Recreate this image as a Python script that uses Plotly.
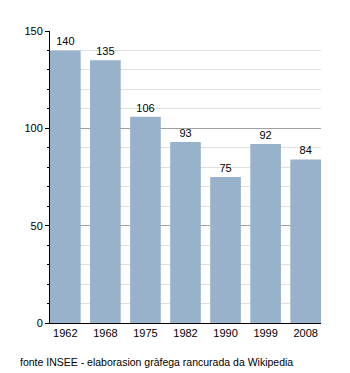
import plotly.graph_objects as go

# Population by census year
years = ["1962", "1968", "1975", "1982", "1990", "1999", "2008"]
population = [140, 135, 106, 93, 75, 92, 84]
source_note = "fonte INSEE - elaborasion gràfega rancurada da Wikipedia"

positions = list(range(len(years)))
bar_width = 0.766
half = bar_width / 2

fig = go.Figure(
    go.Bar(
        x=positions,
        y=population,
        width=bar_width,
        marker=dict(color="#99B2CC", line=dict(width=0)),
        text=[str(v) for v in population],
        textposition="outside",
        textfont=dict(family="Liberation Sans, Arial, sans-serif", size=11, color="#000"),
        cliponaxis=False,
    )
)

fig.update_layout(
    width=350,
    height=373,
    margin=dict(l=50, r=29, t=31, b=50),
    paper_bgcolor="white",
    plot_bgcolor="white",
    showlegend=False,
    font=dict(family="Liberation Sans, Arial, sans-serif", size=11, color="#000"),
    xaxis=dict(
        range=[-half, len(years) - 1 + half],
        tickmode="array",
        tickvals=positions,
        ticktext=years,
        showgrid=False,
        zeroline=False,
        showline=True,
        linecolor="#000",
        linewidth=1,
        ticks="",
        fixedrange=True,
    ),
    yaxis=dict(
        range=[0, 150],
        tickvals=[0, 50, 100, 150],
        showgrid=True,
        gridcolor="#a0a0a0",
        gridwidth=1,
        zeroline=False,
        showline=True,
        linecolor="#000",
        linewidth=1,
        ticks="outside",
        ticklen=4,
        tickcolor="#000",
        minor=dict(
            dtick=10,
            ticks="outside",
            ticklen=2,
            tickcolor="#000",
            showgrid=True,
            gridcolor="#e0e0e0",
            gridwidth=1,
        ),
        fixedrange=True,
    ),
    annotations=[
        dict(
            text=source_note,
            xref="paper",
            yref="paper",
            x=-0.118,
            y=-0.134,
            xanchor="left",
            yanchor="middle",
            showarrow=False,
            font=dict(size=10.5, color="#000"),
        )
    ],
)

fig.write_html("out.html")
